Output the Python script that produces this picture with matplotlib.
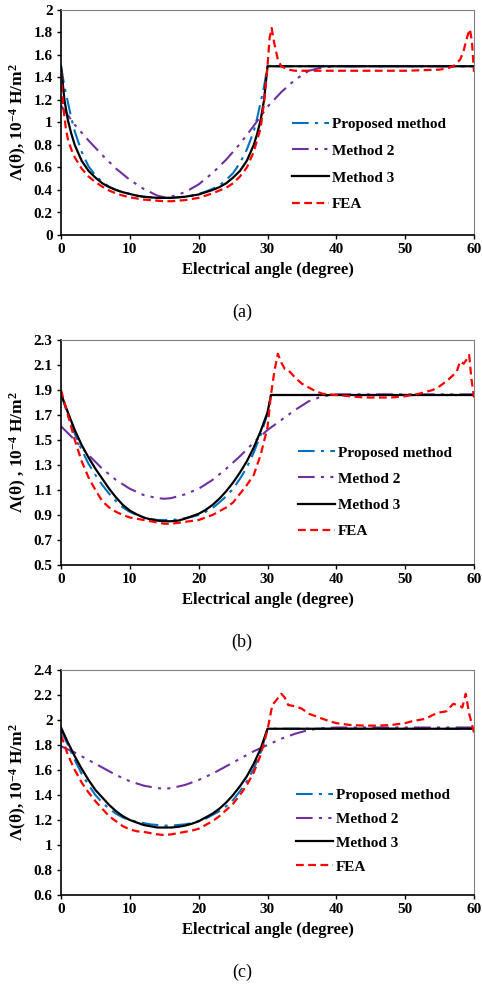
import numpy as np
import matplotlib
matplotlib.use('Agg')
import matplotlib.pyplot as plt

plt.rcParams['font.family'] = ['Liberation Serif', 'DejaVu Serif']
plt.rcParams['font.weight'] = 'bold'
plt.rcParams['mathtext.default'] = 'regular'

# ---- panel (a) ----
a_x = [0, 0.5, 1, 1.5, 2, 3, 4, 5, 6, 7, 8, 9, 10, 11, 12, 13, 14, 15, 16, 17, 18, 19, 20, 21, 22, 23, 24, 25, 26, 27, 28, 28.5, 29, 29.5, 30]
a_m3 = [1.5, 1.2, 1.02, 0.9, 0.8, 0.66, 0.57, 0.51, 0.46, 0.425, 0.4, 0.38, 0.365, 0.35, 0.34, 0.335, 0.33, 0.33, 0.33, 0.335, 0.34, 0.35, 0.36, 0.38, 0.4, 0.425, 0.46, 0.51, 0.57, 0.66, 0.8, 0.9, 1.02, 1.2, 1.5]
a_pm = [1.5, 1.32, 1.18, 1.04, 0.92, 0.74, 0.61, 0.53, 0.47, 0.43, 0.4, 0.38, 0.365, 0.35, 0.34, 0.335, 0.33, 0.33, 0.33, 0.335, 0.34, 0.35, 0.365, 0.385, 0.41, 0.44, 0.49, 0.55, 0.64, 0.76, 0.92, 1.04, 1.18, 1.32, 1.5]
a_x2 = [0, 2, 4, 6, 8, 10, 12, 14, 15, 16, 18, 20, 22, 24, 26, 28, 30, 32, 34, 36, 38, 40, 45, 50, 55, 60]
a_m2 = [1.15, 0.98, 0.84, 0.71, 0.59, 0.49, 0.41, 0.35, 0.335, 0.34, 0.38, 0.45, 0.55, 0.67, 0.81, 0.97, 1.14, 1.27, 1.38, 1.46, 1.49, 1.5, 1.5, 1.5, 1.5, 1.5]
a_xf = [0, 0.3, 0.7, 1, 1.5, 2, 3, 4, 5, 6, 7, 8, 9, 10, 12, 14, 15, 16, 18, 20, 22, 24, 25, 26, 27, 28, 29, 29.5, 30, 30.3, 30.6, 31, 31.5, 32, 33, 34, 36, 40, 45, 50, 55, 56, 57, 58, 58.5, 59, 59.4, 59.7, 60]
a_fea = [1.45, 1.15, 0.95, 0.85, 0.76, 0.69, 0.59, 0.52, 0.47, 0.43, 0.395, 0.37, 0.35, 0.335, 0.315, 0.305, 0.3, 0.3, 0.31, 0.33, 0.37, 0.42, 0.46, 0.52, 0.6, 0.74, 0.95, 1.18, 1.5, 1.75, 1.84, 1.7, 1.56, 1.5, 1.47, 1.46, 1.46, 1.46, 1.46, 1.46, 1.47, 1.48, 1.5, 1.56, 1.64, 1.76, 1.83, 1.72, 1.45]
a_flat = 1.5

# ---- panel (b) ----
b_x = [0, 1, 2, 3, 4, 5, 6, 7, 8, 9, 10, 11, 12, 13, 14, 15, 16, 17, 18, 19, 20, 21, 22, 23, 24, 25, 26, 27, 28, 29, 30, 30.5]
b_m3 = [1.87, 1.72, 1.58, 1.46, 1.36, 1.27, 1.19, 1.11, 1.04, 0.98, 0.935, 0.905, 0.88, 0.865, 0.855, 0.85, 0.85, 0.855, 0.87, 0.89, 0.91, 0.94, 0.98, 1.03, 1.09, 1.16, 1.24, 1.33, 1.44, 1.57, 1.72, 1.86]
b_pm = [1.87, 1.7, 1.55, 1.42, 1.31, 1.22, 1.14, 1.07, 1.01, 0.96, 0.925, 0.9, 0.88, 0.87, 0.86, 0.86, 0.86, 0.865, 0.875, 0.885, 0.9, 0.925, 0.955, 1.0, 1.05, 1.11, 1.19, 1.28, 1.4, 1.54, 1.71, 1.86]
b_x2 = [0, 2, 4, 6, 8, 10, 12, 14, 15, 16, 18, 20, 22, 24, 26, 28, 30, 31, 32, 34, 36, 38, 40, 45, 50, 55, 60]
b_m2 = [1.61, 1.5, 1.38, 1.27, 1.18, 1.11, 1.06, 1.035, 1.03, 1.035, 1.065, 1.11, 1.18, 1.27, 1.37, 1.48, 1.58, 1.62, 1.66, 1.74, 1.81, 1.85, 1.865, 1.865, 1.865, 1.865, 1.865]
b_xf = [0, 1, 2, 3, 4, 5, 6, 7, 8, 9, 10, 12, 14, 15, 16, 18, 20, 22, 24, 25, 26, 27, 28, 29, 30, 30.5, 31, 31.5, 32, 32.5, 33, 34, 35, 36, 37, 38, 40, 42, 44, 46, 48, 50, 52, 54, 55, 56, 57, 57.5, 58, 58.5, 59, 59.3, 59.6, 60]
b_fea = [1.9, 1.7, 1.5, 1.33, 1.2, 1.1, 1.01, 0.96, 0.925, 0.9, 0.88, 0.86, 0.84, 0.83, 0.83, 0.845, 0.86, 0.9, 0.96, 1.0, 1.07, 1.14, 1.22, 1.38, 1.6, 1.86, 2.05, 2.19, 2.12, 2.07, 2.06, 2.0, 1.95, 1.92, 1.89, 1.87, 1.86, 1.85, 1.84, 1.84, 1.84, 1.85, 1.87, 1.9, 1.93, 1.97, 2.02, 2.05, 2.13, 2.11, 2.15, 2.18, 2.0, 1.84]
b_flat = 1.86

# ---- panel (c) ----
c_x = [0, 1, 2, 3, 4, 5, 6, 7, 8, 9, 10, 11, 12, 13, 14, 15, 16, 17, 18, 19, 20, 21, 22, 23, 24, 25, 26, 27, 28, 29, 30]
c_m3 = [1.94, 1.82, 1.71, 1.61, 1.52, 1.44, 1.38, 1.32, 1.27, 1.23, 1.2, 1.18, 1.16, 1.15, 1.14, 1.14, 1.14, 1.145, 1.155, 1.17, 1.19, 1.22, 1.25, 1.29, 1.34, 1.4, 1.47, 1.55, 1.65, 1.77, 1.93]
c_pm = [1.92, 1.8, 1.68, 1.57, 1.48, 1.4, 1.34, 1.29, 1.25, 1.22, 1.2, 1.185, 1.175, 1.165, 1.16, 1.155, 1.155, 1.16, 1.165, 1.175, 1.19, 1.21, 1.24, 1.27, 1.31, 1.36, 1.43, 1.51, 1.61, 1.74, 1.93]
c_x2 = [0, 2, 4, 6, 8, 10, 12, 14, 15, 16, 18, 20, 22, 24, 26, 28, 30, 32, 34, 36, 38, 40, 45, 50, 55, 60]
c_m2 = [1.79, 1.74, 1.68, 1.62, 1.56, 1.51, 1.475, 1.455, 1.45, 1.455, 1.48, 1.52, 1.57, 1.63, 1.69, 1.75, 1.8, 1.85, 1.89, 1.92, 1.935, 1.94, 1.94, 1.94, 1.94, 1.94]
c_xf = [0, 1, 2, 3, 4, 5, 6, 7, 8, 9, 10, 11, 12, 13, 14, 15, 16, 17, 18, 19, 20, 21, 22, 23, 24, 25, 26, 27, 28, 29, 30, 30.7, 31.3, 32, 32.5, 33, 34, 35, 36, 37, 38, 39, 40, 42, 44, 46, 48, 50, 51, 52, 53, 54, 55, 56, 57, 58, 58.3, 58.8, 59.3, 60]
c_fea = [1.88, 1.72, 1.6, 1.5, 1.42, 1.35, 1.29, 1.23, 1.19, 1.15, 1.125, 1.11, 1.105, 1.095, 1.085, 1.08, 1.085, 1.095, 1.105, 1.115, 1.13, 1.16, 1.19, 1.23, 1.28, 1.33, 1.4, 1.48, 1.58, 1.72, 1.92, 2.12, 2.16, 2.21, 2.18, 2.12, 2.11, 2.09, 2.05, 2.03, 2.01, 1.99, 1.975, 1.96, 1.955, 1.955, 1.96, 1.975, 1.99, 2.0, 2.01, 2.04, 2.06, 2.07, 2.13, 2.11, 2.1, 2.21, 2.05, 1.9]
c_flat = 1.93

panels = [
    (a_x, a_m3, a_pm, a_x2, a_m2, a_xf, a_fea, a_flat, (0, 2), np.arange(0, 2.01, 0.2), '(a)', r'Λ(θ), 10$^{-4}$ H/m$^{2}$'),
    (b_x, b_m3, b_pm, b_x2, b_m2, b_xf, b_fea, b_flat, (0.5, 2.3), np.arange(0.5, 2.31, 0.2), '(b)', r'Λ(θ) , 10$^{-4}$ H/m$^{2}$'),
    (c_x, c_m3, c_pm, c_x2, c_m2, c_xf, c_fea, c_flat, (0.6, 2.4), np.arange(0.6, 2.41, 0.2), '(c)', r'Λ(θ), 10$^{-4}$ H/m$^{2}$'),
]
leg_pos = [(0.56, 0.314, 0.86), (0.575, 0.324, 0.82), (0.57, 0.284, 0.66)]

W, H = 482, 988
fig = plt.figure(figsize=(W / 100, H / 100), dpi=100)

for k, (x, m3, pm, x2, m2, xf, fea, flat, ylim, yt, cap, ylab) in enumerate(panels):
    top = 10 + 330 * k
    ax = fig.add_axes([61 / W, (H - top - 225) / H, 413 / W, 225 / H])
    px = list(x) + [60]
    ax.plot(px, list(pm) + [flat], color='#0070C0', lw=1.5, dashes=[8, 3, 1.5, 3], label='Proposed method')
    ax.plot(x2, m2, color='#7030A0', lw=1.5, dashes=[8, 3, 1.5, 3, 1.5, 3], label='Method 2')
    ax.plot(px, list(m3) + [flat], color='black', lw=1.6, label='Method 3')
    ax.plot(xf, fea, color='red', lw=1.6, dashes=[3.5, 2], label='FEA')
    ax.set_xlim(0, 60)
    ax.set_ylim(*ylim)
    ax.set_xticks(range(0, 61, 10))
    ax.set_yticks(yt)
    ax.set_yticklabels(['%g' % round(v, 1) for v in yt])
    ax.tick_params(direction='out', length=3, width=1, labelsize=11, pad=3)
    for s in ['top', 'right']:
        ax.spines[s].set_color('#808080')
    for s in ['left', 'bottom']:
        ax.spines[s].set_linewidth(1.2)
    ax.set_xlabel('Electrical angle (degree)', fontsize=12, fontweight='bold', labelpad=4)
    ax.set_ylabel(ylab, fontsize=12.5, fontweight='bold', labelpad=3)
    lx, ly, ls = leg_pos[k]
    ax.legend(loc='center left', bbox_to_anchor=(lx, ly), frameon=False, fontsize=11,
              handlelength=2.4, handletextpad=0.2, labelspacing=ls, borderaxespad=0, borderpad=0)
    fig.text(0.502, 1 - (top + 302) / H, cap, ha='center', va='center', fontsize=13, fontweight='normal')

fig.savefig('out.png', dpi=100)
